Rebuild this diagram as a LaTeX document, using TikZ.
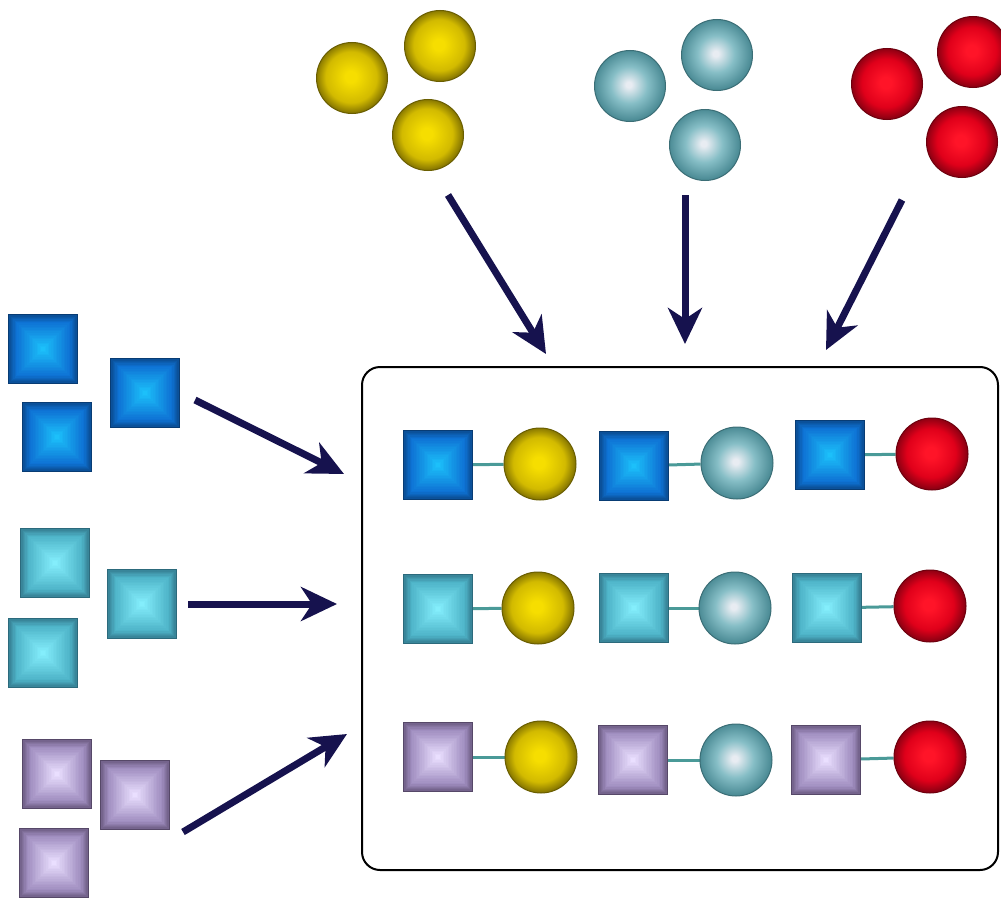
\documentclass[tikz,border=0pt]{standalone}
\usetikzlibrary{arrows.meta,backgrounds}
\definecolor{arrowc}{HTML}{16124E}
\definecolor{linkc}{HTML}{4A9A98}
\definecolor{ya}{HTML}{F6DE00}\definecolor{yb}{HTML}{D2BA00}\definecolor{yc}{HTML}{857500}
\definecolor{ta}{HTML}{E8ECF2}\definecolor{tb}{HTML}{86BEC6}\definecolor{tc}{HTML}{4A8A94}
\definecolor{ra}{HTML}{FF1428}\definecolor{rb}{HTML}{E0001A}\definecolor{rc}{HTML}{8A0012}
\definecolor{bo}{HTML}{0A4A8E}\definecolor{bm}{HTML}{0E72D4}\definecolor{bi}{HTML}{1CC0FA}\definecolor{bd}{HTML}{083C74}
\definecolor{go}{HTML}{357C90}\definecolor{gm}{HTML}{4EB4C8}\definecolor{gi}{HTML}{84EEFC}\definecolor{gd}{HTML}{2C6A7C}
\definecolor{po}{HTML}{6C5C82}\definecolor{pm}{HTML}{A08EC0}\definecolor{pi}{HTML}{EADFFF}\definecolor{pd}{HTML}{564868}
\pgfdeclareradialshading{sphY}{\pgfpoint{-1bp}{1bp}}{color(0bp)=(ya); color(4bp)=(ya); color(18bp)=(yb); color(25bp)=(yc); color(50bp)=(yc)}
\pgfdeclareradialshading{sphT}{\pgfpoint{-1bp}{1bp}}{color(0bp)=(ta); color(2bp)=(ta); color(13bp)=(tb); color(25bp)=(tc); color(50bp)=(tc)}
\pgfdeclareradialshading{sphR}{\pgfpoint{-1bp}{1bp}}{color(0bp)=(ra); color(4bp)=(ra); color(17bp)=(rb); color(25bp)=(rc); color(50bp)=(rc)}
\tikzset{
  sphere/.style 2 args={circle, minimum size=71, inner sep=0, shade, shading=#1, draw=#2, line width=1},
  ysph/.style={sphere={sphY}{yc!80!black}},
  tsph/.style={sphere={sphT}{tc!80!black}},
  rsph/.style={sphere={sphR}{rc!80!black}},
  sq/.style n args={4}{rectangle, minimum size=69, inner sep=0, draw=#4, line width=1,
    path picture={
      \foreach \k in {0,...,5}{
        \pgfmathtruncatemacro\p{100-\k*100/6}
        \pgfmathsetmacro\s{35-\k*1.3}
        \fill[#1!\p!#2] ([xshift=-\s pt,yshift=-\s pt]path picture bounding box.center) rectangle ([xshift=\s pt,yshift=\s pt]path picture bounding box.center);}
      \foreach \k in {0,...,16}{
        \pgfmathtruncatemacro\p{100-\k*100/16}
        \pgfmathsetmacro\s{27.2*(1-\k/17)}
        \fill[#2!\p!#3] ([xshift=-\s pt,yshift=-\s pt]path picture bounding box.center) rectangle ([xshift=\s pt,yshift=\s pt]path picture bounding box.center);}}},
  bsq/.style={sq={bo}{bm}{bi}{bd}},
  gsq/.style={sq={go}{gm}{gi}{gd}},
  psq/.style={sq={po}{pm}{pi}{pd}},
  link/.style={draw=linkc, line width=3},
  feed/.style={draw=arrowc, line width=7, -{Stealth[length=36pt, width=34pt, inset=11pt]}},
  frame/.style={draw=black, line width=2, rounded corners=18pt, minimum width=636, minimum height=503, inner sep=0}
}
\begin{document}
\begin{tikzpicture}[x=1pt,y=-1pt]
\useasboundingbox (0,0) rectangle (1001,899);
% top spheres
\node[ysph] (y1) at (352,78) {};
\node[ysph] (y2) at (440,46) {};
\node[ysph] (y3) at (428,135) {};
\node[tsph] (t1) at (630,86) {};
\node[tsph] (t2) at (717,55) {};
\node[tsph] (t3) at (705,145) {};
\node[rsph] (r1) at (887,84) {};
\node[rsph] (r2) at (973,52) {};
\node[rsph] (r3) at (962,142) {};
% left squares
\node[bsq] (b1) at (43,349) {};
\node[bsq] (b2) at (145,393) {};
\node[bsq] (b3) at (57,437) {};
\node[gsq] (g1) at (55,563) {};
\node[gsq] (g2) at (142,604) {};
\node[gsq] (g3) at (43,653) {};
\node[psq] (p1) at (57,774) {};
\node[psq] (p2) at (135,795) {};
\node[psq] (p3) at (54,863) {};
% box
\node[frame] (box) at (680,618.5) {};
% row 1
\node[bsq] (s11) at (438,465) {};
\node[ysph,minimum size=72] (c11) at (540,464) {};
\node[bsq] (s12) at (634,466) {};
\node[tsph,minimum size=72] (c12) at (737,463) {};
\node[bsq] (s13) at (830,455) {};
\node[rsph,minimum size=72] (c13) at (932,454) {};
% row 2
\node[gsq] (s21) at (438,609) {};
\node[ysph,minimum size=72] (c21) at (538,608) {};
\node[gsq] (s22) at (634,608) {};
\node[tsph,minimum size=72] (c22) at (735,608) {};
\node[gsq] (s23) at (827,608) {};
\node[rsph,minimum size=72] (c23) at (930,606) {};
% row 3
\node[psq] (s31) at (438,757) {};
\node[ysph,minimum size=72] (c31) at (541,757) {};
\node[psq] (s32) at (633,760) {};
\node[tsph,minimum size=72] (c32) at (736,760) {};
\node[psq] (s33) at (826,760) {};
\node[rsph,minimum size=72] (c33) at (930,757) {};
\begin{scope}[on background layer]
\foreach \r in {1,2,3}{\foreach \c in {1,2,3}{\draw[link] (s\r\c) -- (c\r\c);}}
\end{scope}
% arrows
\coordinate (ay0) at (448,195); \coordinate (ay1) at (546,354);
\coordinate (at0) at (685,195); \coordinate (at1) at (685,344);
\coordinate (ar0) at (902,200); \coordinate (ar1) at (826,350);
\coordinate (ab0) at (195,400); \coordinate (ab1) at (344,474);
\coordinate (ag0) at (188,604); \coordinate (ag1) at (337,604);
\coordinate (ap0) at (183,832); \coordinate (ap1) at (347,734);
\draw[feed] (ay0) -- (ay1);
\draw[feed] (at0) -- (at1);
\draw[feed] (ar0) -- (ar1);
\draw[feed] (ab0) -- (ab1);
\draw[feed] (ag0) -- (ag1);
\draw[feed] (ap0) -- (ap1);
\end{tikzpicture}
\end{document}
